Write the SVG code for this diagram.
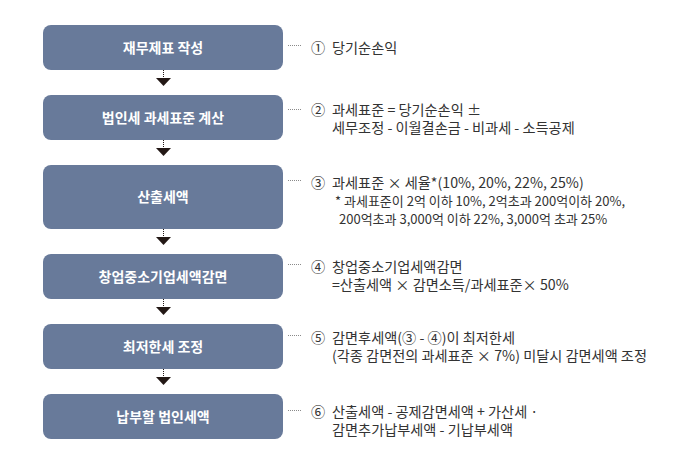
<svg xmlns="http://www.w3.org/2000/svg" width="681" height="468" viewBox="0 0 681 468">
<style>
.box{fill:#687a9a;}
.bl{font-family:"Noto Sans CJK KR","Noto Sans",sans-serif;font-size:14px;font-weight:bold;fill:#ffffff;text-anchor:middle;}
.t{font-family:"Noto Sans CJK KR","Noto Sans",sans-serif;font-size:14.2px;fill:#333333;}
.s{font-size:13px;}
.dot{stroke:#8a8a8a;stroke-width:1;stroke-dasharray:1 1;fill:none;}
.stem{stroke:#231815;stroke-width:1;stroke-dasharray:1 1;fill:none;}
.tri{fill:#231815;}
</style>
<rect width="681" height="468" fill="#ffffff"/>
<g id="connectors">
  <line class="stem" x1="163.5" y1="70" x2="163.5" y2="78"/>
  <polygon class="tri" points="156,78 171,78 163.5,86"/>
  <line class="stem" x1="163.5" y1="140" x2="163.5" y2="148"/>
  <polygon class="tri" points="156,148 171,148 163.5,156"/>
  <line class="stem" x1="163.5" y1="229" x2="163.5" y2="237"/>
  <polygon class="tri" points="156,237 171,237 163.5,245"/>
  <line class="stem" x1="163.5" y1="299" x2="163.5" y2="307"/>
  <polygon class="tri" points="156,307 171,307 163.5,315"/>
  <line class="stem" x1="163.5" y1="369" x2="163.5" y2="377"/>
  <polygon class="tri" points="156,377 171,377 163.5,385"/>
  <line class="dot" x1="288" y1="45.5" x2="302" y2="45.5"/>
  <line class="dot" x1="288" y1="109.5" x2="302" y2="109.5"/>
  <line class="dot" x1="288" y1="180.5" x2="302" y2="180.5"/>
  <line class="dot" x1="288" y1="264.5" x2="302" y2="264.5"/>
  <line class="dot" x1="288" y1="335.5" x2="302" y2="335.5"/>
  <line class="dot" x1="288" y1="410.5" x2="302" y2="410.5"/>
</g>
<g id="node1">
  <rect class="box" x="43" y="25" width="240" height="45" rx="8"/>
  <text class="bl" x="163" y="52.5">재무제표 작성</text>
</g>
<g id="node2">
  <rect class="box" x="43" y="95" width="240" height="45" rx="8"/>
  <text class="bl" x="163" y="122.5">법인세 과세표준 계산</text>
</g>
<g id="node3">
  <rect class="box" x="43" y="165" width="240" height="64" rx="8"/>
  <text class="bl" x="163" y="202">산출세액</text>
</g>
<g id="node4">
  <rect class="box" x="43" y="254" width="240" height="45" rx="8"/>
  <text class="bl" x="163" y="281.5">창업중소기업세액감면</text>
</g>
<g id="node5">
  <rect class="box" x="43" y="324" width="240" height="45" rx="8"/>
  <text class="bl" x="163" y="351.5">최저한세 조정</text>
</g>
<g id="node6">
  <rect class="box" x="43" y="394" width="240" height="45" rx="8"/>
  <text class="bl" x="163" y="421.5">납부할 법인세액</text>
</g>
<g id="notes">
  <text class="t" x="311" y="52.5">①</text>
  <text class="t" x="332" y="52.5">당기순손익</text>
  <text class="t" x="311" y="115">②</text>
  <text class="t" x="332" y="115">과세표준 = 당기순손익 ±<tspan x="332" y="133">세무조정 - 이월결손금 - 비과세 - 소득공제</tspan></text>
  <text class="t" x="311" y="188">③</text>
  <text class="t" x="332" y="188">과세표준 × 세율*(10%, 20%, 22%, 25%)<tspan class="s" x="335" y="206">* 과세표준이 2억 이하 10%, 2억초과 200억이하 20%,</tspan><tspan class="s" x="339" y="224">200억초과 3,000억 이하 22%, 3,000억 초과 25%</tspan></text>
  <text class="t" x="311" y="272">④</text>
  <text class="t" x="332" y="272">창업중소기업세액감면<tspan x="332" y="290">=산출세액 × 감면소득/과세표준× 50%</tspan></text>
  <text class="t" x="311" y="343">⑤</text>
  <text class="t" x="332" y="343">감면후세액(③ - ④)이 최저한세<tspan x="332" y="361">(각종 감면전의 과세표준 × 7%) 미달시 감면세액 조정</tspan></text>
  <text class="t" x="311" y="417">⑥</text>
  <text class="t" x="332" y="417">산출세액 - 공제감면세액 + 가산세 ·<tspan x="332" y="435">감면추가납부세액 - 기납부세액</tspan></text>
</g>
</svg>
